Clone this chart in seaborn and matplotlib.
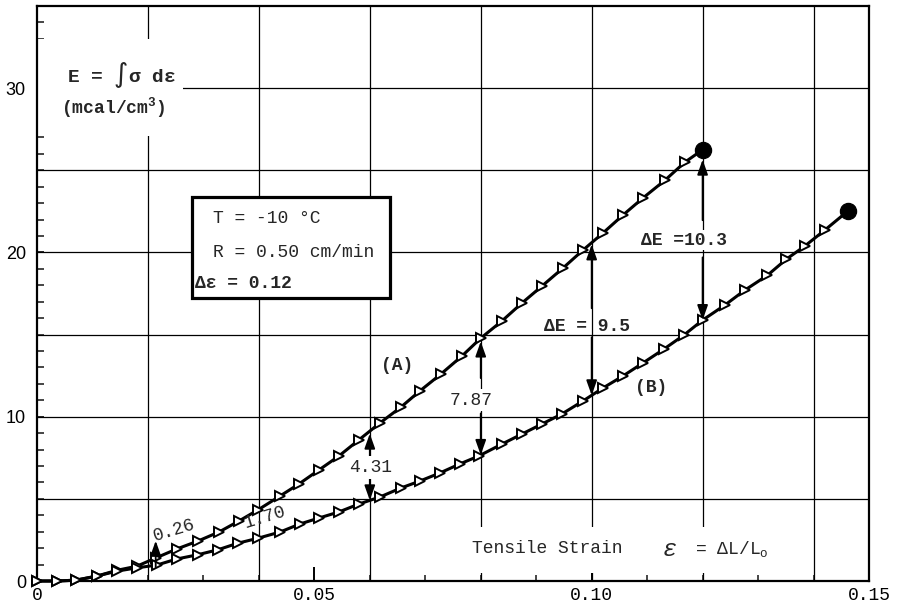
import numpy as np
import pandas as pd
import matplotlib
matplotlib.use("Agg")
import matplotlib.pyplot as plt
from matplotlib.patches import Rectangle
from matplotlib.ticker import MultipleLocator
import seaborn as sns

# Strain energy density vs tensile strain, curves (A) and (B)
strain_a = [0.0, 0.0036, 0.0070, 0.0108, 0.0144, 0.0180, 0.0214, 0.0252, 0.0290,
            0.0328, 0.0364, 0.0398, 0.0438, 0.0472, 0.0508, 0.0544, 0.0580, 0.0618,
            0.0656, 0.0690, 0.0728, 0.0766, 0.0800, 0.0838, 0.0874, 0.0910, 0.0948,
            0.0984, 0.1020, 0.1056, 0.1092, 0.1132, 0.1168, 0.1200]
energy_a = [0.0, 0.0, 0.05, 0.3, 0.65, 0.9, 1.40, 1.95, 2.43, 2.98, 3.65, 4.32,
            5.17, 5.90, 6.75, 7.60, 8.58, 9.61, 10.58, 11.56, 12.59, 13.69, 14.78,
            15.82, 16.91, 17.94, 19.04, 20.13, 21.17, 22.26, 23.30, 24.39, 25.49, 26.25]

strain_b = [0.0, 0.0036, 0.0070, 0.0108, 0.0144, 0.0180, 0.0216, 0.0252, 0.0290,
            0.0326, 0.0362, 0.0398, 0.0438, 0.0474, 0.0508, 0.0544, 0.0580, 0.0618,
            0.0656, 0.0690, 0.0726, 0.0762, 0.0796, 0.0838, 0.0874, 0.0910, 0.0946,
            0.0984, 0.1020, 0.1056, 0.1092, 0.1130, 0.1166, 0.1200, 0.1240, 0.1276,
            0.1317, 0.1351, 0.1384, 0.1420, 0.1463]
energy_b = [0.0, 0.0, 0.05, 0.3, 0.6, 0.8, 0.97, 1.34, 1.60, 1.90, 2.30, 2.60,
            2.98, 3.47, 3.83, 4.20, 4.68, 5.11, 5.66, 6.08, 6.57, 7.12, 7.60, 8.33,
            8.94, 9.55, 10.16, 10.95, 11.74, 12.47, 13.26, 14.11, 14.96, 15.88,
            16.79, 17.70, 18.61, 19.59, 20.38, 21.35, 22.55]

# energy gap between the curves at selected strains
gap_strain = [0.02, 0.04, 0.06, 0.08, 0.10, 0.12]
gap_labels = ["0.26", "1.70", "4.31", "7.87", "ΔE = 9.5", "ΔE =10.3"]

x_ticks = [0, 0.05, 0.10, 0.15]
x_tick_labels = ["0", "0.05", "0.10", "0.15"]
y_ticks = [0, 10, 20, 30]
y_tick_labels = ["0", "10", "20", "30"]

sns.set_style("ticks")
plt.rcParams["font.family"] = ["Liberation Mono", "DejaVu Sans Mono", "DejaVu Sans"]
plt.rcParams["mathtext.fontset"] = "dejavusans"

fig = plt.figure(figsize=(9.1, 6.06), dpi=100)
ax = fig.add_axes([37 / 910, 25 / 606, 832 / 910, 575 / 606])

ax.set_xlim(0, 0.15)
ax.set_ylim(0, 35)

# grid
for gx in np.arange(0.02, 0.141, 0.02):
    ax.axvline(gx, color="black", lw=0.9, zorder=1)
for gy in range(5, 31, 5):
    ax.axhline(gy, color="black", lw=0.9, zorder=1)

# blank areas behind the axis captions
ax.add_patch(Rectangle((0.0, 27.1), 0.0263, 5.9, facecolor="white",
                       edgecolor="none", zorder=1.5))
ax.add_patch(Rectangle((0.0726, 0.49), 0.063, 2.8, facecolor="white",
                       edgecolor="none", zorder=1.5))

# curves
for sx, sy in [(strain_a, energy_a), (strain_b, energy_b)]:
    df = pd.DataFrame({"strain": sx, "energy": sy})
    sns.lineplot(data=df, x="strain", y="energy", ax=ax, color="black", lw=2.2,
                 marker=">", ms=6.5, mfc="white", mec="black", mew=1.4,
                 markevery=list(range(len(sx) - 1)), estimator=None, sort=False,
                 zorder=3, clip_on=False)

ends = pd.DataFrame({"strain": [strain_a[-1], strain_b[-1]],
                     "energy": [energy_a[-1], energy_b[-1]]})
sns.scatterplot(data=ends, x="strain", y="energy", ax=ax, color="black",
                edgecolor="black", s=135, zorder=5, legend=False)


def varrow(x, y_tail, y_tip):
    ax.annotate("", xy=(x, y_tip), xytext=(x, y_tail),
                arrowprops=dict(arrowstyle="-|>,head_length=0.9,head_width=0.32",
                                color="black", lw=1.3, shrinkA=0, shrinkB=0,
                                mutation_scale=10), zorder=4)


def on_a(x):
    return float(np.interp(x, strain_a, energy_a))


def on_b(x):
    return float(np.interp(x, strain_b, energy_b))


varrow(0.0214, 0.85, 2.45)
varrow(0.06, 7.54, on_a(0.06) - 0.15)
varrow(0.06, 6.27, on_b(0.06))
varrow(0.08, 12.35, on_a(0.08) - 0.2)
varrow(0.08, 10.2, on_b(0.08))
varrow(0.10, 16.6, on_a(0.10) - 0.1)
varrow(0.10, 14.84, on_b(0.10))
varrow(0.12, 21.96, on_a(0.12) - 0.6)
varrow(0.12, 19.7, on_b(0.12))

wbox = dict(facecolor="white", edgecolor="none", pad=2)
ax.text(0.0248, 3.1, gap_labels[0], size=13, rotation=17, ha="center", va="center", zorder=4)
ax.text(0.0411, 3.85, gap_labels[1], size=13, rotation=17, ha="center", va="center", zorder=4)
ax.text(0.0601, 6.9, gap_labels[2], size=13, ha="center", va="center", bbox=wbox, zorder=4)
ax.text(0.0782, 11.0, gap_labels[3], size=13, ha="center", va="center", bbox=wbox, zorder=4)
ax.text(0.0991, 15.5, gap_labels[4], size=13, weight="bold", ha="center", va="center", zorder=4)
ax.text(0.1166, 20.75, gap_labels[5], size=13, weight="bold", ha="center", va="center",
        bbox=dict(facecolor="white", edgecolor="none", pad=1), zorder=4)

ax.text(0.0649, 13.1, "(A)", size=13, weight="bold", ha="center", va="center", zorder=4)
ax.text(0.1108, 11.8, "(B)", size=13, weight="bold", ha="center", va="center", zorder=4)

# condition box
ax.add_patch(Rectangle((0.0279, 17.2), 0.0357, 6.2, facecolor="white",
                       edgecolor="black", lw=2.3, zorder=3))
ax.text(0.0317, 22.08, "T = -10 °C", size=13, va="center", zorder=4)
ax.text(0.0317, 20.0, "R = 0.50 cm/min", size=13, va="center", zorder=4)
ax.text(0.0285, 18.13, "Δε = 0.12", size=13, weight="bold", va="center", zorder=4)

# axis captions
ax.text(0.0153, 30.8, r"E = $\int$σ dε", size=14, weight="bold", ha="center",
        va="center", zorder=4)
ax.text(0.0137, 28.8, r"(mcal/cm$^{\mathregular{3}}$)", size=13, weight="bold",
        ha="center", va="center", zorder=4)
ax.text(0.0784, 2.0, "Tensile Strain", size=13, va="center", zorder=4)
ax.text(0.1128, 1.9, "ε", size=17, style="italic", va="center", zorder=4)
ax.text(0.1186, 1.95, r"= ΔL/L$_{\mathregular{o}}$", size=13, va="center", zorder=4)

ax.set_xlabel("")
ax.set_ylabel("")

# ticks
ax.set_xticks(x_ticks)
ax.set_xticklabels(x_tick_labels, family=["Liberation Mono"], size=13)
ax.set_yticks(y_ticks)
ax.set_yticklabels(y_tick_labels, family=["Liberation Sans"], size=13)
ax.xaxis.set_minor_locator(MultipleLocator(0.01))
ax.yaxis.set_minor_locator(MultipleLocator(1))
ax.tick_params(axis="x", which="major", direction="in", length=10, width=1.4,
               pad=4, colors="black")
ax.tick_params(axis="x", which="minor", direction="in", length=4, width=1.2)
ax.tick_params(axis="y", which="major", direction="in", length=5, width=1.2,
               pad=8, colors="black")
ax.tick_params(axis="y", which="minor", direction="in", length=5, width=1.2)
ax.tick_params(top=False, right=False, which="both")

for sp in ax.spines.values():
    sp.set_linewidth(1.6)
    sp.set_color("black")
    sp.set_visible(True)

fig.savefig("out.png", dpi=100, facecolor="white")
